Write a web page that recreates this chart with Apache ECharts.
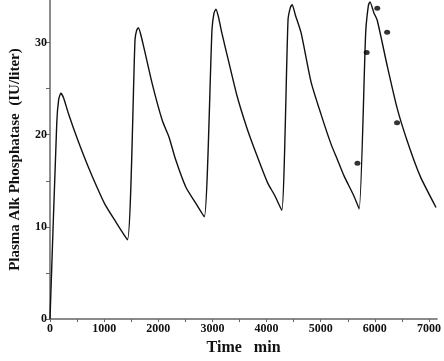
<!DOCTYPE html>
<html>
<head>
<meta charset="utf-8">
<script src="https://cdn.jsdelivr.net/npm/echarts@6/dist/echarts.min.js"></script>
<style>
html,body{margin:0;padding:0;background:#fff;}
#chart{width:444px;height:361px;}
</style>
</head>
<body>
<div id="chart"></div>
<script>
// Model curve: time (min) and plasma alkaline phosphatase (IU/liter)
var curveTime = [0, 125, 160, 200, 250, 340, 520, 700, 860, 1010, 1220, 1430,
  1570, 1600, 1630, 1670, 1740, 1893, 2076, 2200, 2320, 2510, 2700, 2850,
  2992, 3030, 3065, 3110, 3175, 3297, 3450, 3632, 3785, 4017, 4151, 4280,
  4396, 4440, 4474, 4530, 4639, 4822, 5006, 5189, 5311, 5433, 5617, 5710,
  5830, 5880, 5910, 5983, 6044, 6227, 6410, 6593, 6837, 7130];
var curveValue = [0, 21.3, 23.8, 24.5, 24.0, 22.3, 19.3, 16.6, 14.4, 12.5, 10.5, 8.6,
  30.3, 31.3, 31.6, 31.0, 29.3, 25.4, 21.5, 19.7, 17.3, 14.3, 12.5, 11.1,
  31.4, 33.2, 33.6, 32.8, 31.0, 28.0, 24.3, 20.8, 18.3, 14.8, 13.4, 11.8,
  32.4, 33.8, 34.1, 33.0, 31.0, 25.7, 22.2, 19.0, 17.25, 15.5, 13.3, 11.95,
  31.0, 34.0, 34.4, 33.2, 32.4, 27.5, 22.9, 19.4, 15.5, 12.1];

// Observed data points
var obsTime = [5678, 5849, 6044, 6227, 6410];
var obsValue = [16.9, 28.9, 33.7, 31.1, 21.3];

// Axis ticks
var xTickValues = [0, 500, 1000, 1500, 2000, 2500, 3000, 3500, 4000, 4500, 5000, 5500, 6000, 6500, 7000];
var xLabelValues = [0, 1000, 2000, 3000, 4000, 5000, 6000, 7000];
var yTickValues = [0, 5, 10, 15, 20, 25, 30];
var yLabelValues = [0, 10, 20, 30];

var curveData = curveTime.map(function (t, i) { return [t, curveValue[i]]; });
var obsData = obsTime.map(function (t, i) { return [t, obsValue[i]]; });

var axisColor = '#666';
var fontFam = '"Liberation Serif", "DejaVu Serif", serif';

var chart = echarts.init(document.getElementById('chart'), null, {renderer: 'canvas'});
chart.setOption({
  animation: false,
  backgroundColor: '#fff',
  grid: {left: 50, right: 4, top: 0, bottom: 35, containLabel: false},
  xAxis: {
    type: 'value', min: 0, max: 7150,
    name: 'Time   min', nameLocation: 'middle', nameGap: 17,
    nameTextStyle: {fontFamily: fontFam, fontWeight: 'bold', fontSize: 16, color: '#111'},
    axisLine: {show: true, lineStyle: {color: axisColor, width: 1.5}},
    axisTick: {show: true, length: 3, customValues: xTickValues, lineStyle: {color: axisColor, width: 1}},
    axisLabel: {customValues: xLabelValues, formatter: function (v) { return String(v); },
      fontFamily: fontFam, fontWeight: 'bold', fontSize: 12, color: '#111', margin: 4},
    splitLine: {show: false}
  },
  yAxis: {
    type: 'value', min: 0, max: 34.6,
    name: 'Plasma Alk Phosphatase  (IU/liter)', nameLocation: 'middle', nameGap: 27,
    nameTextStyle: {fontFamily: fontFam, fontWeight: 'bold', fontSize: 15, color: '#111'},
    axisLine: {show: true, lineStyle: {color: axisColor, width: 1.5}},
    axisTick: {show: true, length: 4, customValues: yTickValues, lineStyle: {color: axisColor, width: 1}},
    axisLabel: {customValues: yLabelValues, formatter: function (v) { return String(v); },
      fontFamily: fontFam, fontWeight: 'bold', fontSize: 12, color: '#111', margin: 3},
    splitLine: {show: false}
  },
  series: [
    {
      type: 'line', data: curveData, showSymbol: false, smooth: 0.2,
      lineStyle: {color: '#111', width: 1.4}, z: 2
    },
    {
      type: 'scatter', data: obsData, symbol: 'circle', symbolSize: [6, 5],
      itemStyle: {color: '#000'}, z: 3
    }
  ]
});
</script>
</body>
</html>
